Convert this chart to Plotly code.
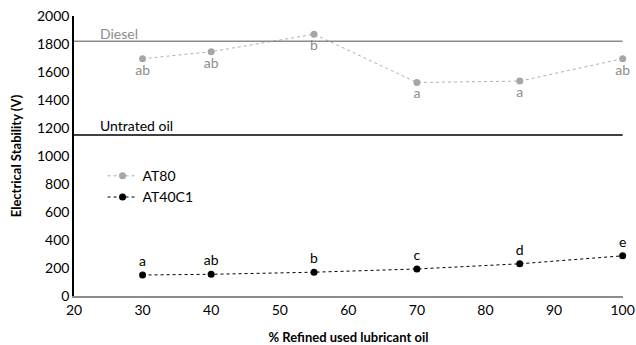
import plotly.graph_objects as go

x_vals = [30, 40, 55, 70, 85, 100]
at80 = [1695, 1745, 1870, 1525, 1535, 1695]
at80_labels = ["ab", "ab", "b", "a", "a", "ab"]
at40c1 = [150, 155, 170, 193, 230, 287]
at40c1_labels = ["a", "ab", "b", "c", "d", "e"]
diesel = 1820
untreated = 1150
font = "Lato, Open Sans, sans-serif"

fig = go.Figure()
fig.add_trace(go.Scatter(x=x_vals, y=at80, mode="lines+markers+text", name="AT80",
                         line=dict(color="#b0b0b0", width=1, dash="dot"),
                         marker=dict(color="#a6a6a6", size=7),
                         text=at80_labels, textposition="bottom center", cliponaxis=False,
                         textfont=dict(color="#8c8c8c", size=14, family=font)))
fig.add_trace(go.Scatter(x=x_vals, y=at40c1, mode="lines+markers+text", name="AT40C1",
                         line=dict(color="black", width=1, dash="dot"),
                         marker=dict(color="black", size=7),
                         text=at40c1_labels, textposition="top center", cliponaxis=False,
                         textfont=dict(color="black", size=14, family=font)))
fig.add_shape(type="line", xref="x", yref="y", x0=20, x1=100, y0=diesel, y1=diesel,
              line=dict(color="#8c8c8c", width=1.5))
fig.add_shape(type="line", xref="x", yref="y", x0=20, x1=100, y0=untreated, y1=untreated,
              line=dict(color="black", width=1.5))
fig.add_annotation(x=23.5, y=diesel, text="Diesel", showarrow=False, xanchor="left", yanchor="bottom",
                   font=dict(color="#8c8c8c", size=14, family=font), yshift=-3)
fig.add_annotation(x=23.5, y=untreated, text="Untrated oil", showarrow=False, xanchor="left", yanchor="bottom",
                   font=dict(color="black", size=14, family=font), yshift=-1)

fig.update_layout(
    width=636, height=345, margin=dict(l=74, r=13, t=16, b=49),
    paper_bgcolor="white", plot_bgcolor="white",
    font=dict(family=font, size=14, color="black"),
    legend=dict(x=0.052, y=0.485, xanchor="left", yanchor="top", bgcolor="rgba(0,0,0,0)",
                font=dict(size=14, family=font), itemwidth=30, tracegroupgap=4),
    xaxis=dict(range=[20, 100.05], tickvals=[20, 30, 40, 50, 60, 70, 80, 90, 100],
               showgrid=False, zeroline=False, ticklabeloverflow="allow", automargin=False,
               showline=True, linecolor="#8c8c8c", linewidth=2, ticks="",
               tickfont=dict(size=14),
               title=dict(text="<b>% Refined used lubricant oil</b>", font=dict(size=13, family=font), standoff=16)),
    yaxis=dict(range=[0, 2000], dtick=200, showgrid=False, zeroline=False, automargin=False,
               showline=True, linecolor="black", linewidth=1.5, ticks="",
               tickfont=dict(size=14),
               title=dict(text="<b>Electrical Stability (V)</b>", font=dict(size=13, family=font), standoff=12)),
)
fig.write_html("out.html", config={"displayModeBar": False},
               post_script="document.body.style.margin='0';document.body.style.overflow='hidden';")
